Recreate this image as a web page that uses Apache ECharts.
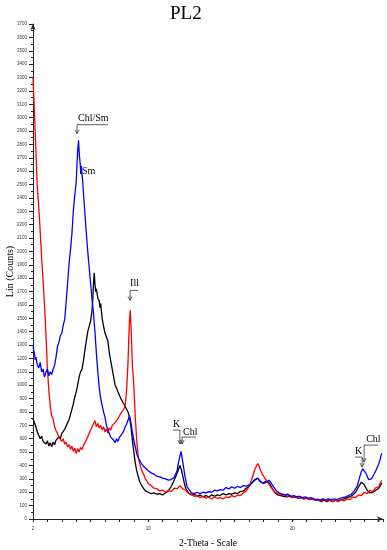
<!DOCTYPE html>
<html><head><meta charset="utf-8">
<script src="https://cdn.jsdelivr.net/npm/echarts@6/dist/echarts.min.js"></script>
<style>html,body{margin:0;padding:0;background:#fff}#c{width:387px;height:550px}</style>
</head><body><div id="c"></div>
<script>
const chartTitle = 'PL2';
const xAxisName = '2-Theta - Scale';
const yAxisName = 'Lin (Counts)';
const xLabelValues = [2, 10, 20];

const redData = [[2.0,3300],[2.1,3050],[2.2,2750],[2.3,2480],[2.4,2330],[2.5,2150],[2.6,1950],[2.7,1780],[2.8,1600],[2.9,1380],[3.0,1120],[3.1,960],[3.2,840],[3.3,770],[3.4,745],[3.5,690],[3.6,660],[3.7,640],[3.8,610],[3.9,620],[4.0,580],[4.1,600],[4.2,560],[4.3,575],[4.4,540],[4.5,555],[4.6,520],[4.7,545],[4.8,505],[4.9,530],[5.0,490],[5.1,525],[5.2,500],[5.3,535],[5.4,520],[5.5,550],[5.6,545],[5.7,590],[5.8,600],[5.9,640],[6.0,650],[6.1,690],[6.2,700],[6.3,735],[6.4,690],[6.5,715],[6.6,680],[6.7,700],[6.8,665],[6.9,690],[7.0,650],[7.1,675],[7.2,640],[7.3,680],[7.4,665],[7.5,700],[7.6,690],[7.7,720],[7.8,715],[7.9,750],[8.0,750],[8.1,790],[8.2,790],[8.3,820],[8.4,850],[8.5,960],[8.6,1180],[8.65,1350],[8.7,1480],[8.75,1560],[8.8,1450],[8.85,1300],[8.9,1150],[9.0,1000],[9.1,760],[9.2,590],[9.3,470],[9.4,420],[9.5,380],[9.6,350],[9.7,330],[9.8,300],[9.9,285],[10.0,265],[10.2,250],[10.4,230],[10.6,225],[10.8,210],[11.0,215],[11.2,200],[11.4,215],[11.6,205],[11.8,230],[12.0,225],[12.2,250],[12.4,225],[12.6,215],[12.8,190],[13.0,185],[13.2,170],[13.4,175],[13.6,160],[13.8,170],[14.0,155],[14.2,165],[14.4,150],[14.6,165],[14.8,155],[15.0,160],[15.2,150],[15.4,165],[15.6,160],[15.8,175],[16.0,165],[16.2,180],[16.4,175],[16.6,195],[16.8,210],[17.0,240],[17.2,300],[17.4,370],[17.6,415],[17.7,395],[17.8,360],[18.0,320],[18.2,290],[18.4,255],[18.6,225],[18.8,200],[19.0,190],[19.2,180],[19.4,185],[19.6,170],[19.8,175],[20.0,160],[20.2,170],[20.4,155],[20.6,165],[20.8,150],[21.0,160],[21.2,145],[21.4,155],[21.6,140],[21.8,150],[22.0,135],[22.2,150],[22.4,135],[22.6,145],[22.8,130],[23.0,140],[23.2,130],[23.4,145],[23.6,135],[23.8,150],[24.0,145],[24.2,165],[24.4,160],[24.6,180],[24.8,175],[25.0,200],[25.2,190],[25.4,215],[25.6,205],[25.8,235],[26.0,240],[26.1,265],[26.2,290]];

const blackData = [[2.0,750],[2.1,720],[2.2,690],[2.3,650],[2.4,640],[2.5,600],[2.6,620],[2.7,580],[2.8,590],[2.9,560],[3.0,585],[3.1,545],[3.2,570],[3.3,540],[3.4,575],[3.5,555],[3.6,590],[3.7,580],[3.8,615],[3.9,600],[4.0,640],[4.1,630],[4.2,670],[4.3,680],[4.4,720],[4.5,740],[4.6,780],[4.7,820],[4.8,860],[4.9,910],[5.0,950],[5.1,1000],[5.2,1060],[5.3,1100],[5.4,1120],[5.5,1180],[5.6,1260],[5.7,1330],[5.8,1400],[5.9,1440],[6.0,1480],[6.1,1560],[6.15,1640],[6.2,1760],[6.25,1840],[6.3,1760],[6.35,1700],[6.4,1720],[6.5,1650],[6.6,1630],[6.65,1580],[6.7,1610],[6.8,1500],[6.9,1440],[7.0,1390],[7.1,1360],[7.2,1330],[7.3,1240],[7.4,1180],[7.5,1120],[7.6,1060],[7.7,1000],[7.8,980],[7.9,950],[8.0,940],[8.1,900],[8.2,880],[8.3,860],[8.4,850],[8.5,820],[8.6,800],[8.7,760],[8.8,690],[8.9,590],[9.0,500],[9.1,420],[9.2,360],[9.3,320],[9.4,280],[9.5,260],[9.6,240],[9.7,225],[9.8,210],[10.0,200],[10.2,190],[10.4,195],[10.6,185],[10.8,190],[11.0,180],[11.2,195],[11.4,210],[11.6,245],[11.8,290],[12.0,340],[12.1,370],[12.2,400],[12.3,370],[12.4,320],[12.5,270],[12.6,230],[12.8,195],[13.0,180],[13.2,185],[13.4,170],[13.6,180],[13.8,165],[14.0,175],[14.2,165],[14.4,180],[14.6,170],[14.8,180],[15.0,175],[15.2,190],[15.4,180],[15.6,190],[15.8,185],[16.0,195],[16.2,190],[16.4,205],[16.6,210],[16.8,230],[17.0,245],[17.2,270],[17.4,295],[17.6,305],[17.8,275],[18.0,270],[18.2,285],[18.3,290],[18.4,270],[18.6,230],[18.8,195],[19.0,180],[19.2,175],[19.4,170],[19.6,165],[19.8,170],[20.0,160],[20.2,165],[20.4,155],[20.6,160],[20.8,150],[21.0,155],[21.2,145],[21.4,150],[21.6,140],[21.8,145],[22.0,130],[22.2,140],[22.4,130],[22.6,140],[22.8,130],[23.0,140],[23.2,135],[23.4,145],[23.6,150],[23.8,160],[24.0,165],[24.2,180],[24.4,200],[24.6,240],[24.8,275],[24.9,280],[25.0,255],[25.2,215],[25.4,195],[25.6,200],[25.8,215],[26.0,230],[26.1,245],[26.2,270]];

const blueData = [[2.0,1300],[2.05,1260],[2.1,1240],[2.15,1190],[2.2,1210],[2.3,1150],[2.4,1130],[2.5,1170],[2.6,1100],[2.7,1120],[2.8,1060],[2.9,1100],[3.0,1120],[3.1,1070],[3.2,1100],[3.3,1080],[3.4,1120],[3.5,1150],[3.6,1210],[3.7,1290],[3.8,1320],[3.9,1370],[4.0,1390],[4.1,1450],[4.2,1490],[4.3,1620],[4.4,1760],[4.5,1900],[4.6,2010],[4.7,2130],[4.8,2300],[4.9,2420],[5.0,2520],[5.05,2640],[5.1,2750],[5.16,2830],[5.22,2720],[5.28,2650],[5.32,2580],[5.36,2640],[5.4,2570],[5.45,2530],[5.5,2440],[5.6,2290],[5.7,2140],[5.8,2000],[5.9,1880],[6.0,1760],[6.1,1640],[6.2,1540],[6.3,1400],[6.4,1240],[6.5,1100],[6.6,980],[6.7,900],[6.8,850],[6.9,800],[7.0,760],[7.1,700],[7.2,670],[7.3,640],[7.4,610],[7.5,620],[7.6,590],[7.7,570],[7.8,600],[7.9,580],[8.0,610],[8.1,620],[8.2,640],[8.3,660],[8.4,690],[8.5,710],[8.6,740],[8.7,770],[8.8,720],[8.9,650],[9.0,590],[9.1,540],[9.2,490],[9.3,460],[9.4,440],[9.5,420],[9.6,410],[9.7,390],[9.8,380],[10.0,360],[10.2,345],[10.4,335],[10.6,320],[10.8,315],[11.0,305],[11.2,300],[11.4,290],[11.6,295],[11.8,310],[12.0,360],[12.1,420],[12.2,470],[12.28,505],[12.35,460],[12.45,390],[12.55,320],[12.7,240],[12.9,210],[13.0,195],[13.2,190],[13.4,200],[13.6,190],[13.8,200],[14.0,195],[14.2,205],[14.4,200],[14.6,215],[14.8,210],[15.0,220],[15.2,215],[15.4,235],[15.6,225],[15.8,240],[16.0,230],[16.2,245],[16.4,235],[16.6,250],[16.8,245],[17.0,255],[17.2,270],[17.4,290],[17.6,305],[17.8,280],[18.0,265],[18.2,275],[18.4,290],[18.5,285],[18.7,240],[18.9,210],[19.1,195],[19.3,185],[19.5,180],[19.7,185],[19.9,170],[20.1,175],[20.3,165],[20.5,170],[20.7,160],[20.9,165],[21.1,155],[21.3,160],[21.5,150],[21.7,145],[21.9,140],[22.1,150],[22.3,140],[22.5,150],[22.7,145],[22.9,150],[23.1,145],[23.3,155],[23.5,160],[23.7,165],[23.9,175],[24.1,185],[24.3,210],[24.5,245],[24.6,280],[24.7,320],[24.8,355],[24.9,375],[25.0,360],[25.1,345],[25.2,320],[25.3,295],[25.4,290],[25.5,300],[25.6,320],[25.7,340],[25.8,360],[25.9,385],[26.0,410],[26.1,445],[26.2,490]];

// annotation labels and the data points they refer to
const annLabels = ['Chl/Sm', 'Sm', 'Ill', 'K', 'Chl', 'K', 'Chl'];
const annTheta  = [5.06, 5.4, 8.74, 12.2, 12.35, 24.85, 24.99];
const annCounts = [2880, 2596, 1634, 560, 560, 388, 425];

const chart = echarts.init(document.getElementById('c'));
const axisColor = '#222';
const option = {
  animation: false,
  backgroundColor: '#fff',
  title: {
    text: chartTitle, left: 170, top: 5, padding: 0,
    textStyle: {fontFamily: 'Liberation Serif', fontSize: 19, fontWeight: 'normal', color: '#000'}
  },
  grid: {left: 33, right: 4, top: 24, bottom: 31, containLabel: false, outerBoundsMode: 'none'},
  xAxis: {
    type: 'value', min: 2, max: 26.3, interval: 1,
    name: xAxisName, nameLocation: 'middle', nameGap: 19, nameMoveOverlap: false,
    nameTextStyle: {fontFamily: 'Liberation Serif', fontSize: 9.5, color: '#000'},
    axisLine: {show: true, onZero: false, symbol: ['none', 'arrow'], symbolSize: [4, 6], lineStyle: {color: axisColor, width: 1}},
    axisTick: {show: true, length: 3, lineStyle: {color: axisColor}},
    axisLabel: {
      fontSize: 4.5, color: '#333', margin: 7,
      formatter: v => xLabelValues.includes(Math.round(v * 1000) / 1000) ? String(v) : ''
    },
    splitLine: {show: false}
  },
  yAxis: {
    type: 'value', min: 0, max: 3700, interval: 100,
    name: yAxisName, nameLocation: 'middle', nameGap: 18, nameRotate: 90, nameMoveOverlap: false,
    nameTextStyle: {fontFamily: 'Liberation Serif', fontSize: 10, color: '#000'},
    axisLine: {show: true, symbol: ['none', 'arrow'], symbolSize: [4, 6], lineStyle: {color: axisColor, width: 1}},
    axisTick: {show: true, length: 4, lineStyle: {color: axisColor}},
    minorTick: {show: true, splitNumber: 2, length: 2, lineStyle: {color: axisColor}},
    axisLabel: {fontSize: 4.5, color: '#333', margin: 6, formatter: v => String(v)},
    splitLine: {show: false}
  },
  series: [
    {name: 'black', type: 'line', data: blackData, showSymbol: false, sampling: 'none', lineStyle: {color: '#000000', width: 1.3}, z: 2},
    {name: 'red', type: 'line', data: redData, showSymbol: false, sampling: 'none', lineStyle: {color: '#ff0000', width: 1.3}, z: 3},
    {name: 'blue', type: 'line', data: blueData, showSymbol: false, sampling: 'none', lineStyle: {color: '#0000ff', width: 1.3}, z: 4}
  ]
};
chart.setOption(option);

// bracket geometry (pixel offsets relative to the arrow tip)
const annLayout = [
  {rise: 9,  arm: 31,  tx: 1,  ty: -15},
  {rise: 0,  arm: 0,   tx: 0,  ty: 0},
  {rise: 10, arm: 8,   tx: 0,  ty: -17},
  {rise: 14, arm: -7,  tx: -7, ty: -20},
  {rise: 7,  arm: 14,  tx: 1,  ty: -12},
  {rise: 10, arm: -7,  tx: -7, ty: -16},
  {rise: 17, arm: 14,  tx: 2,  ty: -23}
];
const graphics = [];
annLabels.forEach((label, i) => {
  const p = chart.convertToPixel({gridIndex: 0}, [annTheta[i], annCounts[i]]);
  const L = annLayout[i];
  const lineStyle = {stroke: '#333', lineWidth: 0.8, fill: null};
  if (L.rise > 0) {
    graphics.push({type: 'polyline', silent: true, z: 50,
      shape: {points: [[p[0] + L.arm, p[1] - L.rise], [p[0], p[1] - L.rise], [p[0], p[1]]]},
      style: lineStyle});
    graphics.push({type: 'polyline', silent: true, z: 50,
      shape: {points: [[p[0] - 2, p[1] - 4], [p[0], p[1]], [p[0] + 2, p[1] - 4]]},
      style: lineStyle});
  }
  graphics.push({type: 'text', silent: true, z: 51, x: p[0] + L.tx, y: p[1] + L.ty,
    style: {text: label, fontFamily: 'Liberation Serif', fontSize: 10, fill: '#000', align: 'left', verticalAlign: 'middle'}});
});
chart.setOption({graphic: graphics});
</script>
</body></html>
